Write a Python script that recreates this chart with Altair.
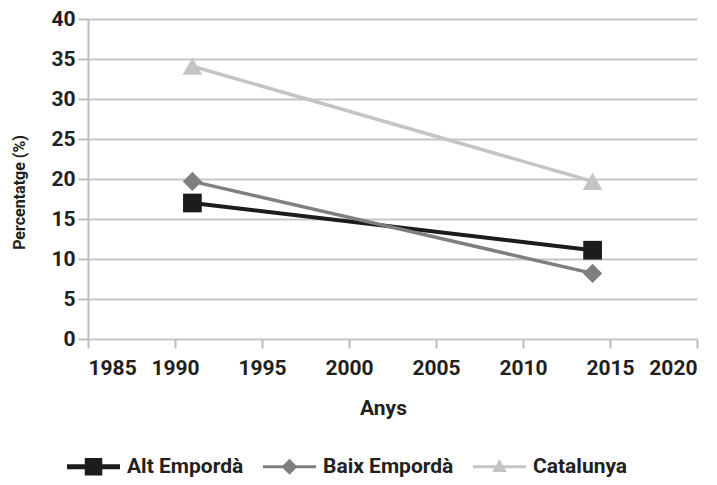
import altair as alt
import pandas as pd

series = ["Alt Empordà", "Baix Empordà", "Catalunya"]
years = [1991, 2014]
alt_emporda = [17.0, 11.1]
baix_emporda = [19.7, 8.2]
catalunya = [34.1, 19.7]

colors = ["#1c1c1c", "#7f7f7f", "#c4c4c4"]
shapes = ["square", "diamond", "triangle-up"]
marker_sizes = [350, 370, 390]
line_widths = [4, 3.5, 3.5]
legend_paths = [
    "M-1,-0.09H1V0.09H-1Z M-0.33,-0.33H0.33V0.33H-0.33Z",
    "M-1,-0.06H1V0.06H-1Z M0,-0.3L0.3,0L0,0.3L-0.3,0Z",
    "M-1,-0.06H1V0.06H-1Z M0,-0.28L0.28,0.2L-0.28,0.2Z",
]

values = [alt_emporda, baix_emporda, catalunya]
rows = []
for s, vals in zip(series, values):
    for yr, v in zip(years, vals):
        rows.append({"serie": s, "year": yr, "value": v})
df = pd.DataFrame(rows)

FONT = "Roboto"
TXT = "#231f20"

x_enc = alt.X(
    "year:Q",
    scale=alt.Scale(domain=[1985, 2020], nice=False, zero=False),
    axis=alt.Axis(
        values=[1985, 1990, 1995, 2000, 2005, 2010, 2015, 2020],
        format="d",
        title="Anys",
        grid=False,
        domain=False,
        ticks=True,
        tickSize=9,
        tickColor="#bdbdbd",
        tickWidth=2,
        labelPadding=9,
        titlePadding=19,
        titleX=295,
    ),
)
y_enc = alt.Y(
    "value:Q",
    scale=alt.Scale(domain=[0, 40], nice=False),
    axis=alt.Axis(
        values=[0, 5, 10, 15, 20, 25, 30, 35, 40],
        title="Percentatge (%)",
        grid=True,
        gridColor="#c6c6c6",
        gridWidth=2,
        domain=True,
        domainColor="#bdbdbd",
        domainWidth=2,
        tickSize=10,
        tickColor="#bdbdbd",
        tickWidth=2,
        labelPadding=3,
        titleFontSize=16,
        titleAngle=270,
        titleAlign="center",
        titleBaseline="bottom",
        titleX=-61,
        titleY=173,
    ),
)

layers = []
for s, c, w in zip(series, colors, line_widths):
    sub = df[df["serie"] == s]
    layers.append(
        alt.Chart(sub).mark_line(color=c, strokeWidth=w).encode(x=x_enc, y=y_enc)
    )
for s, c, sh, sz in zip(series, colors, shapes, marker_sizes):
    sub = df[df["serie"] == s]
    layers.append(
        alt.Chart(sub)
        .mark_point(filled=True, shape=sh, color=c, size=sz, opacity=1)
        .encode(x=x_enc, y=y_enc)
    )

legend = alt.Legend(
    title=None,
    orient="none",
    legendX=-21,
    legendY=421,
    direction="horizontal",
    symbolSize=2809,
    symbolStrokeWidth=0,
    symbolOpacity=1,
    labelFont=FONT,
    labelFontSize=21,
    labelFontWeight="bold",
    labelColor=TXT,
    labelOffset=7,
    columnPadding=19,
)
legend_layer = (
    alt.Chart(df)
    .transform_filter("datum.year < 0")
    .mark_point(filled=True)
    .encode(
        x=x_enc,
        y=y_enc,
        shape=alt.Shape("serie:N", scale=alt.Scale(domain=series, range=legend_paths), legend=legend),
        color=alt.Color("serie:N", scale=alt.Scale(domain=series, range=colors), legend=legend),
    )
)
layers.append(legend_layer)

chart = (
    alt.layer(*layers)
    .properties(
        width=609,
        height=320,
        padding={"left": 80, "top": 11, "right": 5, "bottom": 144},
        autosize=alt.AutoSizeParams(type="none"),
    )
    .configure_view(stroke=None)
    .configure_axis(
        labelFont=FONT,
        labelFontSize=21,
        labelFontWeight="bold",
        labelColor=TXT,
        titleFont=FONT,
        titleFontSize=21,
        titleFontWeight="bold",
        titleColor=TXT,
    )
)

chart.save("out.html", embed_options={"renderer": "svg", "actions": False})
